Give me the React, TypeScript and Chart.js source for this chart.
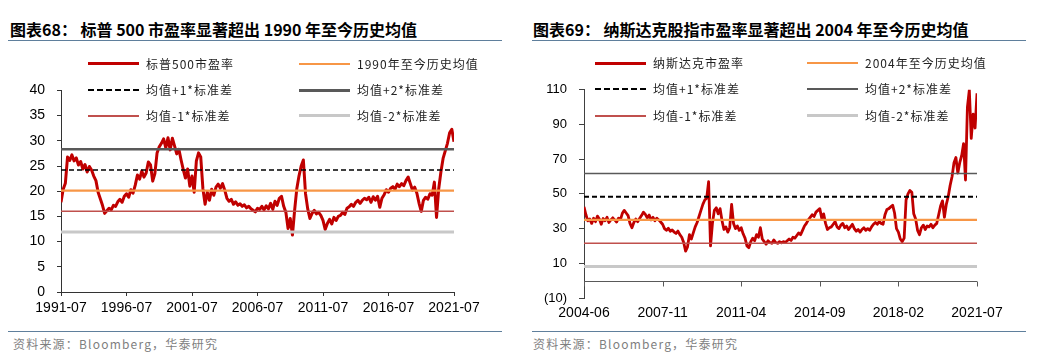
import React, { useEffect, useRef } from "react";
import { Chart, registerables } from "chart.js";

Chart.register(...registerables);

// ---------- S&P 500 (left panel) ----------
const spxTitle = "图表68： 标普 500 市盈率显著超出 1990 年至今历史均值";
const spxLegend = ["标普500市盈率", "1990年至今历史均值", "均值+1*标准差", "均值+2*标准差", "均值-1*标准差", "均值-2*标准差"];
const spxTickLabels = ["1991-07", "1996-07", "2001-07", "2006-07", "2011-07", "2016-07", "2021-07"];
const spxMonthsPerPoint = 2;
const spxPE = [
  17.8, 20.4, 21.6, 26.8, 26.1, 27.2, 26.0, 26.6, 25.2, 25.9,
  24.4, 25.3, 23.8, 24.9, 24.2, 23.0, 22.1, 19.8, 18.5, 17.2,
  15.6, 16.1, 16.6, 16.3, 17.2, 17.0, 17.9, 18.4, 17.8, 19.0,
  19.5, 18.8, 20.3, 19.6, 21.2, 23.2, 22.4, 24.0, 22.8, 23.6,
  25.8, 25.2, 22.0, 23.5, 27.6, 28.8, 29.5, 30.4, 28.6, 30.6,
  28.2, 30.5, 29.0, 27.4, 28.3, 26.2, 24.3, 22.6, 24.4, 21.0,
  23.0, 19.8, 26.0, 27.6, 26.8, 20.5, 17.4, 19.8, 18.2, 20.4,
  19.2, 20.8, 21.4, 20.6, 21.5, 20.2, 18.6, 18.0, 18.4, 17.4,
  17.9, 17.2, 17.5, 17.0, 17.3, 16.7, 17.0, 16.5, 16.2, 15.9,
  16.6, 16.4, 17.0, 16.3, 17.1, 16.5, 17.6, 16.4, 18.0, 17.2,
  18.6, 19.0, 17.0, 15.8, 12.6, 14.6, 11.3, 16.2, 20.5, 23.0,
  25.0, 26.2, 19.5, 16.5, 14.6, 15.6, 16.2, 15.5, 15.8, 15.2,
  14.2, 12.4, 13.6, 14.4, 13.5, 14.8, 14.2, 15.0, 15.2, 15.8,
  15.4, 16.6, 16.9, 17.4, 17.0, 17.8, 18.2, 17.6, 18.2, 18.6,
  18.3, 18.8, 17.8, 18.9, 18.2, 19.0, 16.8, 18.6, 19.3, 20.3,
  19.8, 20.6, 20.9, 20.4, 21.4, 20.9, 21.5, 21.1, 22.1, 22.8,
  21.5, 20.2, 20.8, 19.6, 17.6, 16.0, 18.2, 18.8, 18.4, 19.5,
  19.2, 21.8, 14.8, 20.5, 23.8, 26.5, 28.0, 29.5, 31.6, 32.3,
  29.8,
];
// mean, +1σ, +2σ, -1σ, -2σ
const spxBands = [20.1, 24.2, 28.3, 16.0, 11.9];
const spxYTicks = [0, 40, 5];

// ---------- Nasdaq (right panel) ----------
const ndxTitle = "图表69： 纳斯达克股指市盈率显著超出 2004 年至今历史均值";
const ndxLegend = ["纳斯达克市盈率", "2004年至今历史均值", "均值+1*标准差", "均值+2*标准差", "均值-1*标准差", "均值-2*标准差"];
const ndxTickLabels = ["2004-06", "2007-11", "2011-04", "2014-09", "2018-02", "2021-07"];
const ndxMonthsPerPoint = 1;
const ndxPE = [
  42.5, 38.0, 34.5, 35.5, 33.0, 36.0, 34.0, 37.2, 35.5, 32.5,
  35.8, 34.5, 36.5, 33.5, 35.0, 36.2, 35.0, 33.8, 36.0, 35.2,
  38.8, 40.5, 39.0, 37.5, 33.0, 30.5, 33.5, 35.5, 34.0, 35.8,
  37.5, 39.5, 38.2, 36.2, 37.8, 35.0, 36.5, 34.5, 36.0, 35.0,
  33.8, 32.5, 30.0, 29.0, 30.2, 28.5, 29.2, 28.0, 27.2, 28.6,
  26.5, 25.0, 22.0, 17.0, 19.5, 26.5, 24.0, 27.5, 31.0, 33.5,
  37.0, 40.5, 44.0, 46.5, 47.5, 57.0, 20.0, 33.0, 40.5, 42.0,
  38.5, 41.5, 34.5, 29.5, 31.0, 28.0, 30.5, 44.0, 33.0, 30.0,
  31.5, 29.0, 30.5, 27.0, 24.5, 20.0, 19.0, 22.5, 24.5, 23.0,
  26.5, 25.0, 30.5, 24.0, 22.5, 21.0, 23.0, 22.0, 21.5, 23.5,
  22.0, 21.5, 22.5, 21.8, 22.5, 22.0, 23.0, 24.0, 23.2, 25.0,
  24.5, 26.0, 27.5, 26.5, 29.0, 31.5, 33.0, 35.0, 36.5, 38.0,
  37.0, 39.5, 40.5, 41.5, 36.0, 38.5, 33.0, 29.5, 30.5, 31.0,
  32.5, 34.0, 31.0, 30.0, 32.0, 33.0, 30.5, 31.5, 29.5, 31.0,
  32.5, 30.0, 28.5, 29.5, 28.0, 29.5, 30.5, 29.0, 30.0, 29.0,
  31.0, 32.5, 33.5, 32.5, 34.0, 33.0, 32.5, 38.0, 41.0, 41.5,
  42.5, 43.5, 39.0, 30.0, 28.0, 24.0, 22.5, 24.5, 46.5, 50.0,
  52.0, 51.0, 38.5, 35.5, 29.0, 26.5, 30.5, 32.0, 29.5, 31.5,
  31.0, 32.5, 30.5, 32.0, 33.0, 38.0, 43.0, 46.0, 36.5, 44.0,
  48.5, 55.0, 60.0, 68.0, 71.0, 62.0, 68.0, 72.0, 79.0, 58.0,
  100.0, 110.0, 82.0, 96.0, 88.0, 108.0,
];
const ndxBands = [35.0, 48.4, 61.8, 21.6, 8.2];
const ndxYTicks = [-10, 110, 20];

const SOURCE = "资料来源：Bloomberg，华泰研究";

type LineStyle = { color: string; width: number; dash: number[] };

const spxStyles: LineStyle[] = [
  { color: "#c00000", width: 3, dash: [] },
  { color: "#f79646", width: 2.2, dash: [] },
  { color: "#000000", width: 1.5, dash: [5, 3] },
  { color: "#595959", width: 2.5, dash: [] },
  { color: "#c0504d", width: 1.5, dash: [] },
  { color: "#c8c8c8", width: 3, dash: [] },
];
const ndxStyles: LineStyle[] = [
  { color: "#c00000", width: 2.8, dash: [] },
  { color: "#f79646", width: 2.2, dash: [] },
  { color: "#000000", width: 2, dash: [5, 3] },
  { color: "#595959", width: 1.5, dash: [] },
  { color: "#c0504d", width: 1.5, dash: [] },
  { color: "#c8c8c8", width: 3, dash: [] },
];

const CJK = "'Noto Sans CJK SC', 'Noto Sans', sans-serif";
const LATIN = "'Liberation Sans', Arial, sans-serif";
const RULE = "#5f7f9c";

const zeroAxisPlugin = {
  id: "zeroAxis",
  beforeDatasetsDraw(chart: any) {
    const { ctx, chartArea, scales } = chart;
    const x = scales.x;
    const y = scales.y;
    const y0 = Math.round(y.getPixelForValue(0)) + 0.5;
    ctx.save();
    ctx.strokeStyle = "#595959";
    ctx.lineWidth = 1;
    ctx.beginPath();
    ctx.moveTo(chartArea.left, y0);
    ctx.lineTo(chartArea.right, y0);
    x.ticks.forEach((t: any) => {
      const px = Math.round(x.getPixelForValue(t.value)) + 0.5;
      ctx.moveTo(px, y0);
      ctx.lineTo(px, y0 + 5);
    });
    ctx.stroke();
    ctx.restore();
  },
};

type PanelProps = {
  left: number;
  title: string;
  legend: string[];
  tickLabels: string[];
  values: number[];
  monthsPerPoint: number;
  bands: number[];
  yTicks: number[];
  styles: LineStyle[];
  yAxisWidth: number;
  padTop: number;
  padRight: number;
  xHeight: number;
  zeroAxis: boolean;
  legendCols: number[];
  legendRows: number[];
  titleLeft: number;
  sourceLeft: number;
  ruleLeft: number;
  xFont: number;
  yFont: number;
};

function Panel(p: PanelProps) {
  const ref = useRef<HTMLCanvasElement>(null);
  useEffect(() => {
    const xMax = (p.values.length - 1) * p.monthsPerPoint;
    const xStep = xMax / (p.tickLabels.length - 1);
    const st = (s: LineStyle) => ({
      borderColor: s.color,
      backgroundColor: s.color,
      borderWidth: s.width,
      borderDash: s.dash,
      pointRadius: 0,
      fill: false,
      tension: 0,
      borderJoinStyle: "round" as const,
    });
    const datasets: any[] = [
      {
        label: p.legend[0],
        data: p.values.map((v, i) => ({ x: i * p.monthsPerPoint, y: v })),
        ...st(p.styles[0]),
        order: 1,
      },
      ...p.bands.map((b, k) => ({
        label: p.legend[k + 1],
        data: [
          { x: 0, y: b },
          { x: xMax, y: b },
        ],
        ...st(p.styles[k + 1]),
        order: 0,
      })),
    ];
    const axisColor = p.zeroAxis ? "#404040" : "#333333";
    const chart = new Chart(ref.current!, {
      type: "line",
      data: { datasets },
      plugins: p.zeroAxis ? [zeroAxisPlugin] : [],
      options: {
        animation: false,
        responsive: false,
        devicePixelRatio: 1,
        layout: { padding: { top: p.padTop, right: p.padRight, left: 0, bottom: 0 } },
        plugins: { legend: { display: false }, tooltip: { enabled: false } },
        scales: {
          x: {
            type: "linear",
            min: 0,
            max: xMax,
            afterFit: (s: any) => {
              s.height = p.xHeight;
            },
            ticks: {
              stepSize: xStep,
              autoSkip: false,
              maxRotation: 0,
              color: "#000",
              padding: p.zeroAxis ? 7 : 4,
              font: { family: LATIN, size: p.xFont },
              callback: (v: any) => {
                const idx = Math.round(Number(v) / xStep);
                return p.tickLabels[idx] ?? "";
              },
            },
            grid: p.zeroAxis
              ? { display: false, drawTicks: false }
              : { drawOnChartArea: false, drawTicks: true, tickLength: 4, color: axisColor },
            border: p.zeroAxis ? { display: false } : { display: true, color: axisColor, width: 1 },
          },
          y: {
            type: "linear",
            min: p.yTicks[0],
            max: p.yTicks[1],
            afterFit: (s: any) => {
              s.width = p.yAxisWidth;
            },
            ticks: {
              stepSize: p.yTicks[2],
              color: "#000",
              padding: 12,
              font: { family: LATIN, size: p.yFont },
              callback: (v: any) => (Number(v) < 0 ? `(${-Number(v)})` : `${v}`),
            },
            grid: { drawOnChartArea: false, drawTicks: true, tickLength: p.zeroAxis ? 5 : 4, color: axisColor },
            border: { display: true, color: axisColor, width: 1 },
          },
        },
      },
    });
    return () => chart.destroy();
  }, []);

  const legendItems = p.legend.map((label, i) => {
    const col = i % 2;
    const row = Math.floor(i / 2);
    const s = p.styles[i];
    const lx = p.legendCols[col];
    const ly = p.legendRows[row];
    return (
      <React.Fragment key={label}>
        <div
          style={{
            position: "absolute",
            left: lx,
            top: ly - Math.round(s.width / 2),
            width: 51,
            height: 0,
            borderTop: s.dash.length
              ? `2px dashed ${s.color}`
              : `${Math.max(2, Math.round(s.width))}px solid ${s.color}`,
          }}
        />
        <div
          style={{
            position: "absolute",
            left: lx + 58,
            top: ly - 9,
            height: 18,
            lineHeight: "18px",
            fontFamily: CJK,
            fontSize: 12,
            letterSpacing: 1,
            color: "#222",
            whiteSpace: "nowrap",
          }}
        >
          {label}
        </div>
      </React.Fragment>
    );
  });

  return (
    <>
      <div
        style={{
          position: "absolute",
          left: p.titleLeft,
          top: 18,
          lineHeight: "22px",
          fontFamily: CJK,
          fontWeight: 700,
          fontSize: 16,
          color: "#000",
          whiteSpace: "pre",
        }}
      >
        {p.title}
      </div>
      <div style={{ position: "absolute", left: p.ruleLeft, top: 40, width: 494, height: 1, background: RULE }} />
      <canvas
        ref={ref}
        width={510}
        height={255}
        style={{ position: "absolute", left: p.left, top: 70, width: 510, height: 255 }}
      />
      {legendItems}
      <div style={{ position: "absolute", left: p.ruleLeft, top: 331, width: 494, height: 1, background: RULE }} />
      <div
        style={{
          position: "absolute",
          left: p.sourceLeft,
          top: 335,
          lineHeight: "18px",
          fontFamily: CJK,
          fontSize: 12,
          letterSpacing: 1.2,
          color: "#7f7f7f",
          whiteSpace: "nowrap",
        }}
      >
        {SOURCE}
      </div>
    </>
  );
}

export default function App() {
  return (
    <div
      style={{
        position: "fixed",
        left: 0,
        top: 0,
        width: 1041,
        height: 364,
        background: "#fff",
        overflow: "hidden",
      }}
    >
      <Panel
        left={0}
        title={spxTitle}
        legend={spxLegend}
        tickLabels={spxTickLabels}
        values={spxPE}
        monthsPerPoint={spxMonthsPerPoint}
        bands={spxBands}
        yTicks={spxYTicks}
        styles={spxStyles}
        yAxisWidth={61}
        padTop={18}
        padRight={56}
        xHeight={33}
        zeroAxis={false}
        legendCols={[88, 299]}
        legendRows={[64, 90, 116]}
        titleLeft={10}
        sourceLeft={13}
        ruleLeft={8}
        xFont={14}
        yFont={14}
      />
      <Panel
        left={520}
        title={ndxTitle}
        legend={ndxLegend}
        tickLabels={ndxTickLabels}
        values={ndxPE}
        monthsPerPoint={ndxMonthsPerPoint}
        bands={ndxBands}
        yTicks={ndxYTicks}
        styles={ndxStyles}
        yAxisWidth={64}
        padTop={12}
        padRight={53}
        xHeight={27}
        zeroAxis={true}
        legendCols={[595, 807]}
        legendRows={[63, 89, 116]}
        titleLeft={533}
        sourceLeft={533}
        ruleLeft={532}
        xFont={14}
        yFont={13}
      />
    </div>
  );
}
